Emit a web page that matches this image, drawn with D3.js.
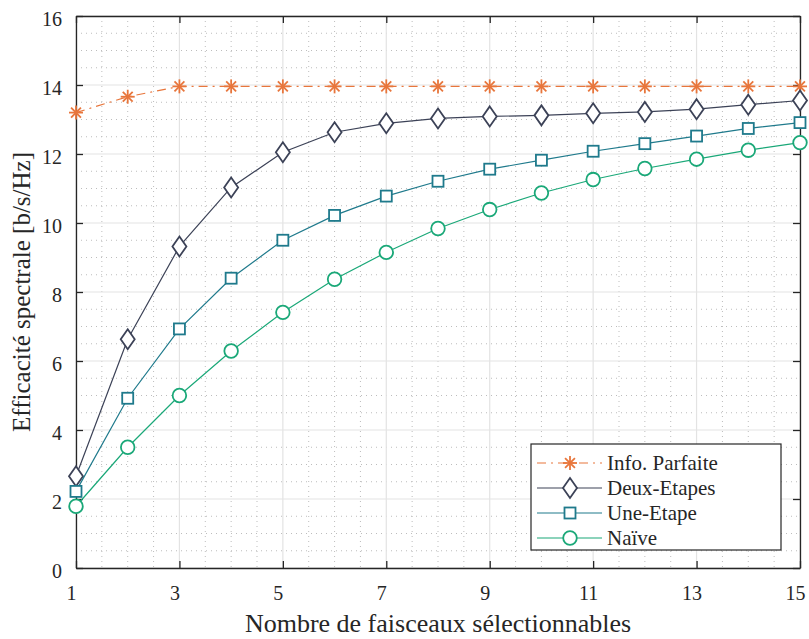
<!DOCTYPE html>
<html><head><meta charset="utf-8">
<script src="https://cdn.jsdelivr.net/npm/d3@7"></script>
<style>
body{margin:0;background:#fff;}
text{fill:#262626;}
</style></head>
<body><svg id="c" width="809" height="639"></svg>
<script>
const xValues = [1,2,3,4,5,6,7,8,9,10,11,12,13,14,15];
const infoParfaite = [13.2,13.66,13.96,13.96,13.96,13.96,13.96,13.96,13.96,13.96,13.96,13.96,13.96,13.96,13.96];
const deuxEtapes = [2.66,6.63,9.32,11.03,12.05,12.63,12.89,13.03,13.09,13.12,13.18,13.22,13.3,13.43,13.55];
const uneEtape = [2.22,4.92,6.93,8.4,9.5,10.22,10.78,11.21,11.56,11.82,12.08,12.3,12.52,12.74,12.91];
const naive = [1.79,3.5,5.0,6.29,7.41,8.37,9.15,9.84,10.39,10.87,11.26,11.58,11.85,12.11,12.33];
const xTicks = [1,3,5,7,9,11,13,15];
const yTicks = [0,2,4,6,8,10,12,14,16];
const seriesNames = ["Info. Parfaite","Deux-Etapes","Une-Etape","Naïve"];
const xLabel = "Nombre de faisceaux sélectionnables";
const yLabel = "Efficacité spectrale [b/s/Hz]";

const FONT = '"Liberation Serif","DejaVu Serif",serif';
const svg = d3.select("#c");
const L=76, R=800, T=16, B=568;
const x = d3.scaleLinear().domain([1,15]).range([L,R]);
const y = d3.scaleLinear().domain([0,16]).range([B,T]);

const g = svg.append("g");
g.selectAll(".mx").data(d3.range(1,15.01,0.5).filter(v=>!xTicks.includes(v)))
  .enter().append("line").attr("x1",d=>x(d)).attr("x2",d=>x(d)).attr("y1",T).attr("y2",B)
  .attr("stroke","#bdbdbd").attr("stroke-width",1).attr("stroke-dasharray","1,4");
g.selectAll(".my").data(d3.range(0,16.01,0.5).filter(v=>!yTicks.includes(v)))
  .enter().append("line").attr("y1",d=>y(d)).attr("y2",d=>y(d)).attr("x1",L).attr("x2",R)
  .attr("stroke","#bdbdbd").attr("stroke-width",1).attr("stroke-dasharray","1,4");
g.selectAll(".Mx").data(xTicks).enter().append("line")
  .attr("x1",d=>x(d)).attr("x2",d=>x(d)).attr("y1",T).attr("y2",B).attr("stroke","#e3e3e3").attr("stroke-width",1.2);
g.selectAll(".My").data(yTicks).enter().append("line")
  .attr("y1",d=>y(d)).attr("y2",d=>y(d)).attr("x1",L).attr("x2",R).attr("stroke","#e3e3e3").attr("stroke-width",1.2);

const tl = 7;
const axB = svg.append("g").attr("transform",`translate(0,${B})`)
  .call(d3.axisBottom(x).tickValues(xTicks).tickSizeInner(-tl).tickSizeOuter(0).tickPadding(14));
const axT = svg.append("g").attr("transform",`translate(0,${T})`)
  .call(d3.axisTop(x).tickValues(xTicks).tickSizeInner(-tl).tickSizeOuter(0).tickFormat(""));
const axL = svg.append("g").attr("transform",`translate(${L},0)`)
  .call(d3.axisLeft(y).tickValues(yTicks).tickSizeInner(-tl).tickSizeOuter(0).tickPadding(14));
const axR = svg.append("g").attr("transform",`translate(${R},0)`)
  .call(d3.axisRight(y).tickValues(yTicks).tickSizeInner(-tl).tickSizeOuter(0).tickFormat(""));
[axB,axT,axL,axR].forEach(a=>{
  a.attr("font-family",null).attr("font-size",null);
  a.select(".domain").attr("stroke","#262626").attr("stroke-width",1.3);
  a.selectAll(".tick line").attr("stroke","#262626").attr("stroke-width",1.3);
  a.selectAll("text").attr("font-family",FONT).attr("font-size","20px").attr("fill","#262626");
});
axB.selectAll(".tick text").attr("dx",-5).attr("dy","0.9em");
axL.selectAll(".tick text").attr("dy","0.45em");

svg.append("text").attr("x",438).attr("y",632).attr("text-anchor","middle")
  .attr("font-family",FONT).attr("font-size","26px").text(xLabel);
svg.append("text").attr("transform","translate(30,292) rotate(-90)").attr("text-anchor","middle")
  .attr("font-family",FONT).attr("font-size","25px").text(yLabel);

const colors = ["#E8763C","#3C4257","#1F7A8C","#1AA878"];
const data = [infoParfaite,deuxEtapes,uneEtape,naive];
const markers = ["star","diamond","square","circle"];

function drawMarker(sel, type, color){
  if(type==="star"){
    const r=7;
    [0,45,90,135].forEach(a=>{
      const rad=a*Math.PI/180;
      sel.append("line").attr("x1",-r*Math.cos(rad)).attr("y1",-r*Math.sin(rad))
        .attr("x2",r*Math.cos(rad)).attr("y2",r*Math.sin(rad))
        .attr("stroke",color).attr("stroke-width",1.8);
    });
  } else if(type==="diamond"){
    sel.append("path").attr("d","M0,-10L7,0L0,10L-7,0Z").attr("fill","#fff").attr("stroke",color).attr("stroke-width",1.8);
  } else if(type==="square"){
    sel.append("rect").attr("x",-5.5).attr("y",-5.5).attr("width",11).attr("height",11).attr("fill","#fff").attr("stroke",color).attr("stroke-width",1.8);
  } else {
    sel.append("circle").attr("r",6.8).attr("fill","#fff").attr("stroke",color).attr("stroke-width",1.8);
  }
}

const line = d3.line().x((d,i)=>x(xValues[i])).y(d=>y(d));
data.forEach((vals,k)=>{
  svg.append("path").datum(vals).attr("d",line).attr("fill","none")
    .attr("stroke",colors[k]).attr("stroke-width",1.2)
    .attr("stroke-dasharray",k===0?"9,5,2,5":null);
  vals.forEach((v,i)=>{
    const m = svg.append("g").attr("transform",`translate(${x(xValues[i])},${y(v)})`);
    drawMarker(m, markers[k], colors[k]);
  });
});

const lg = svg.append("g");
lg.append("rect").attr("x",531).attr("y",444).attr("width",250).attr("height",106)
  .attr("fill","#fff").attr("stroke","#262626").attr("stroke-width",1.2);
seriesNames.forEach((n,k)=>{
  const yy = 463 + k*25;
  lg.append("line").attr("x1",537).attr("x2",602).attr("y1",yy).attr("y2",yy)
    .attr("stroke",colors[k]).attr("stroke-width",1.2).attr("stroke-dasharray",k===0?"9,5,2,5":null);
  const m = lg.append("g").attr("transform",`translate(570,${yy})`);
  drawMarker(m, markers[k], colors[k]);
  lg.append("text").attr("x",607).attr("y",yy+7).attr("font-family",FONT).attr("font-size","21px").text(n);
});
</script></body></html>
